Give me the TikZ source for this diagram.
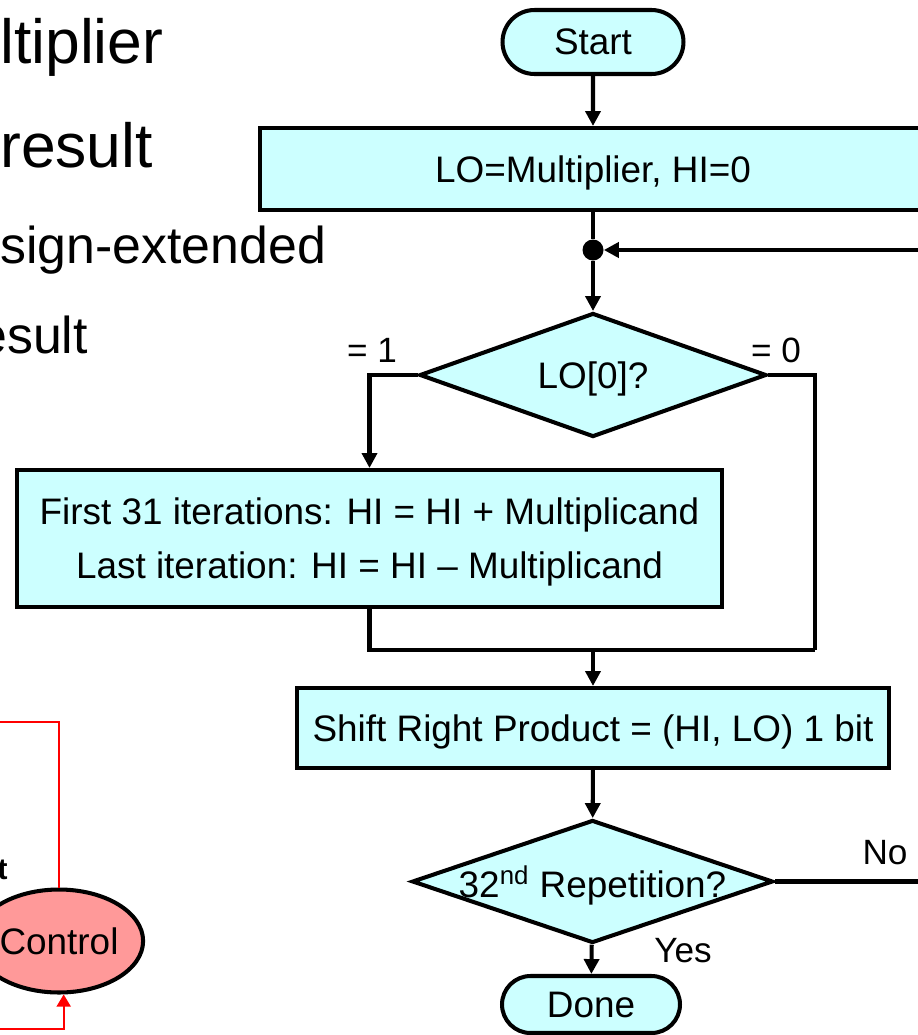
\documentclass[tikz,border=0pt]{standalone}
\usepackage{fontspec}
\setmainfont{Liberation Sans}
\usetikzlibrary{shapes.geometric,shapes.misc,arrows.meta}
\definecolor{boxcyan}{HTML}{CCFFFF}
\definecolor{ctrlred}{HTML}{FF9999}

\begin{document}
\begin{tikzpicture}[x=0.02cm, y=-0.02cm,
	every node/.style={inner sep=0pt, font=\fontsize{21}{30.6}\selectfont},
	term/.style={rounded rectangle, draw=black, line width=2.3pt, fill=boxcyan, text depth=0pt},
	proc/.style={rectangle, draw=black, line width=2.3pt, fill=boxcyan, align=center, text depth=0pt},
	decision/.style={diamond, draw=black, line width=2.3pt, fill=boxcyan, text depth=0pt},
	lbl/.style={font=\fontsize{20}{24}\selectfont},
	big/.style={font=\fontsize{35.5}{40}\selectfont, anchor=base west},
	mid/.style={font=\fontsize{29.5}{34}\selectfont, anchor=base west},
	flow/.style={line width=2.3pt},
	arr/.style={flow, -{Triangle[length=8.5pt, width=8.5pt]}},
	redline/.style={draw=red, line width=1.3pt},
	redarr/.style={redline, -{Triangle[length=7pt, width=8pt]}}]
	\clip (0,0) rectangle (918,1035);

	\node[big] (txtA) at (0,63) {ltiplier};
	\node[big] (txtB) at (0,167) {result};
	\node[mid] (txtC) at (0,263) {sign-extended};
	\node[mid] (txtD) at (-22,353) {esult};
	\node[font=\fontsize{17}{20}\selectfont\bfseries, anchor=base east] (txtE) at (8,879) {t};

	\node[term, minimum width=3.62cm, minimum height=1.28cm] (start) at (593,42) {Start};
	\node[proc, minimum width=13.32cm, minimum height=1.64cm] (init) at (593,169) {LO=Multiplier, HI=0};
	\node[circle, fill=black, minimum size=0.42cm] (dot) at (593,250) {};
	\coordinate (loopin) at (918,250);
	\node[decision, minimum width=6.94cm, minimum height=2.48cm] (lo) at (593,375) {\makebox[0pt]{LO[0]?}};
	\node[proc, minimum width=14.1cm, minimum height=2.74cm] (first) at (369.5,538.5) {First 31 iterations: HI = HI + Multiplicand\\Last iteration: HI = HI -- Multiplicand};
	\coordinate (rjoin) at (815,650);
	\coordinate (merge) at (593,650);
	\node[proc, minimum width=11.84cm, minimum height=1.6cm] (shift) at (593,728) {Shift Right Product = (HI, LO) 1 bit};
	\node[decision, minimum width=7.22cm, minimum height=2.46cm] (rep) at (592.5,881.5) {\makebox[0pt]{32\textsuperscript{nd} Repetition?}};
	\coordinate (noend) at (918,881.5);
	\node[term, minimum width=3.56cm, minimum height=1.14cm] (done) at (591,1004.5) {Done};

	\node[lbl] (one) at (372,350) {= 1};
	\node[lbl] (zero) at (776,350) {= 0};
	\node[lbl] (no) at (885,853) {No};
	\node[lbl] (yes) at (683,951) {Yes};

	\node[ellipse, draw=black, line width=2.3pt, fill=ctrlred, minimum width=3.05cm, minimum height=2.06cm] (ctrl) at (59,941) {Control};
	\coordinate (redA) at (0,722);
	\coordinate (redB) at (0,1029);

	\draw[arr] (start) -- (init);
	\draw[flow] (init) -- (dot);
	\draw[arr] (loopin) -- (dot);
	\draw[arr] (dot) -- (lo);
	\draw[arr] (lo.west) -| (first.north);
	\draw[flow] (lo.east) -| (rjoin);
	\draw[flow] (first.south) |- (rjoin);
	\draw[arr] (merge) -- (shift);
	\draw[arr] (shift) -- (rep);
	\draw[flow] (rep.east) -- (noend);
	\draw[arr] (rep) -- (done);
	\draw[redline] (redA) -| (ctrl.north);
	\draw[redarr] (redB) -| (ctrl.-85);
\end{tikzpicture}
\end{document}
